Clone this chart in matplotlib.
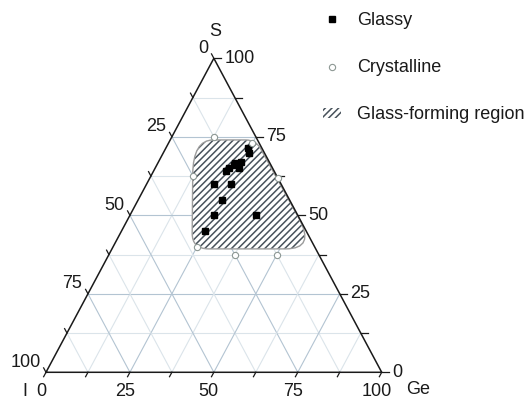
import numpy as np
import matplotlib
matplotlib.use("Agg")
import matplotlib.pyplot as plt
from matplotlib.path import Path
from matplotlib.patches import PathPatch

plt.rcParams['font.family'] = ['Liberation Sans', 'DejaVu Sans']
plt.rcParams['hatch.linewidth'] = 1.1

# compositions (%), I is whatever is left over
glassy_S = [71.5, 70, 67, 65, 66.5, 66, 65, 64, 60, 60, 55, 50, 50, 45]
glassy_Ge = [24.5, 25.5, 24.5, 25, 23, 23, 22, 21.5, 20, 25, 25, 25, 37.5, 25]

cryst_S = [75, 73, 62.5, 62, 40, 37.5, 37.5]
cryst_Ge = [12.5, 25, 12.5, 38, 25, 37.5, 50]

# corners of the glass-forming region (S, Ge)
region_S = [74, 74, 39.3, 39.3]
region_Ge = [6.8, 25.5, 60.7, 23.85]

tick_values = [0, 25, 50, 75, 100]
minor_values = np.arange(0, 100.1, 12.5)

INK = '#1a1a1a'


def tern(S, Ge):
    S = np.asarray(S, float)
    Ge = np.asarray(Ge, float)
    return Ge + S / 2, S


def rounded_path(xs, ys, cuts):
    P = np.column_stack([xs, ys])
    n = len(P)
    ins, outs = [], []
    for i in range(n):
        p, a, b = P[i], P[i - 1], P[(i + 1) % n]
        cin, cout = cuts[i]
        ins.append(p + (a - p) / np.hypot(*(a - p)) * cin)
        outs.append(p + (b - p) / np.hypot(*(b - p)) * cout)
    verts = [outs[0]]
    codes = [Path.MOVETO]
    for i in list(range(1, n)) + [0]:
        verts += [ins[i], P[i], outs[i]]
        codes += [Path.LINETO, Path.CURVE3, Path.CURVE3]
    verts.append(outs[0])
    codes.append(Path.CLOSEPOLY)
    return Path(verts, codes)


fig = plt.figure(figsize=(5.31, 4.03), dpi=100)
ax = fig.add_axes([0, 0, 1, 1])
x0, x1 = -13.70, 144.47
y0, y1 = -9.78, 118.57
ax.set_xlim(x0, x1)
ax.set_ylim(y0, y1)
ax.set_axis_off()

# pixels per data unit, used for ticks
ux = fig.get_figwidth() * fig.dpi / (x1 - x0)
uy = fig.get_figheight() * fig.dpi / (y1 - y0)


def px_dir(dx, dy, length):
    vx, vy = dx * ux, dy * uy
    n = np.hypot(vx, vy)
    return vx / n * length / ux, vy / n * length / uy


# grid
for v in np.arange(12.5, 100, 12.5):
    c = '#b3c4d2' if v % 25 == 0 else '#dbe4ea'
    for S, Ge in (([v, v], [0, 100 - v]),
                  ([0, 100 - v], [v, v]),
                  ([0, 100 - v], [100 - v, 0])):
        x, y = tern(S, Ge)
        ax.plot(x, y, color=c, lw=0.8, zorder=1)

# glass-forming region
rx, ry = tern(region_S, region_Ge)
path = rounded_path(rx, ry, [(11, 6), (3, 3), (11, 9), (5, 5)])
hatched = PathPatch(path, facecolor='white', edgecolor='#48525b', hatch='/////',
                    lw=0, zorder=2, label='Glass-forming region')
ax.add_patch(hatched)
ax.add_patch(PathPatch(path, fill=False, edgecolor='#9c9c9c', lw=1.0, zorder=2.1))

# triangle frame
fx, fy = tern([0, 0, 100, 0], [0, 100, 0, 0])
ax.plot(fx, fy, color=INK, lw=1.1, zorder=3, solid_joinstyle='miter')

tl = 5
for v in minor_values:
    # left edge: I axis, ticks parallel to the S-Ge edge
    x, y = tern(100 - v, 0)
    dx, dy = px_dir(-50, 100, tl)
    ax.plot([x, x + dx], [y, y + dy], color=INK, lw=0.9, zorder=3)
    # right edge: S axis, horizontal ticks
    x, y = tern(v, 100 - v)
    dx, dy = px_dir(1, 0, tl + 2)
    ax.plot([x, x + dx], [y, y + dy], color=INK, lw=0.9, zorder=3)
    # bottom: Ge axis
    x, y = tern(0, v)
    dx, dy = px_dir(-50, -100, tl)
    ax.plot([x, x + dx], [y, y + dy], color=INK, lw=0.9, zorder=3)

for v in tick_values:
    x, y = tern(100 - v, 0)
    ax.annotate(str(v), (x, y), xytext=(-5.5, 10), textcoords='offset pixels',
                ha='right', va='center', fontsize=13, color=INK)
    x, y = tern(v, 100 - v)
    ax.annotate(str(v), (x, y), xytext=(10.5, 0), textcoords='offset pixels',
                ha='left', va='center', fontsize=13, color=INK)
    x, y = tern(0, v)
    ax.annotate(str(v), (x, y), xytext=(-5, -19.5), textcoords='offset pixels',
                ha='center', va='center', fontsize=13, color=INK)

# corner labels
for name, S, Ge, off in (('S', 100, 0, (1.5, 27)),
                         ('I', 0, 0, (-21.5, -19)),
                         ('Ge', 0, 100, (36, -17))):
    x, y = tern(S, Ge)
    ax.annotate(name, (x, y), xytext=off, textcoords='offset pixels',
                ha='center', va='center', fontsize=13, color=INK)

# samples
gx, gy = tern(glassy_S, glassy_Ge)
gl, = ax.plot(gx, gy, 's', color='black', ms=4, zorder=5, label='Glassy')
cx, cy = tern(cryst_S, cryst_Ge)
cr, = ax.plot(cx, cy, 'o', mfc='white', mec='#8d9894', mew=0.8, ms=4.5,
              zorder=5, label='Crystalline', clip_on=False)

fig.legend(handles=[gl, cr, hatched], loc='upper left',
           bbox_to_anchor=(323 / 531, 1 - 12 / 403), frameon=False,
           fontsize=13, handlelength=1.0, handleheight=0.45,
           handletextpad=0.9, labelspacing=1.67, borderpad=0,
           borderaxespad=0, numpoints=1, labelcolor=INK)

fig.savefig('out.png', dpi=100)
